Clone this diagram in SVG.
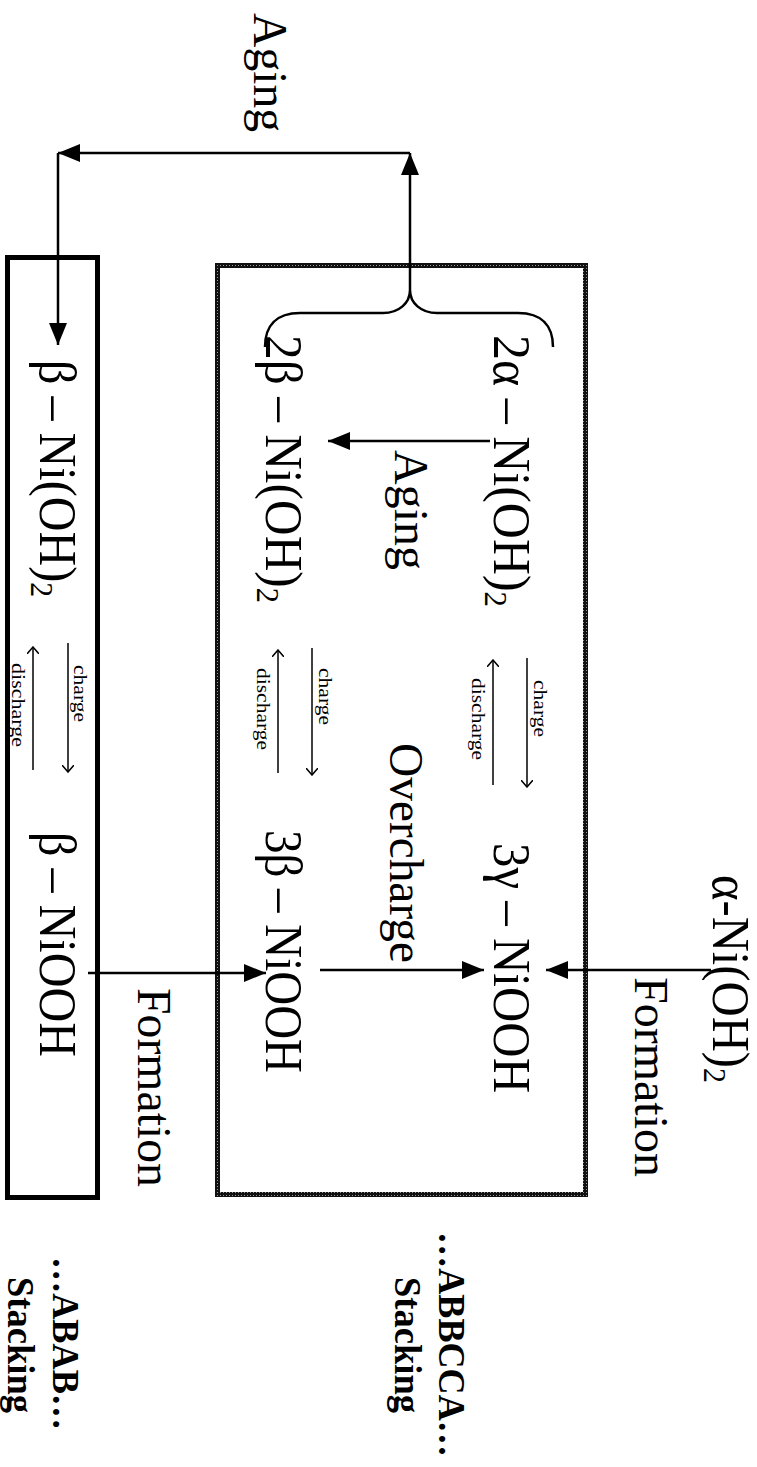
<svg xmlns="http://www.w3.org/2000/svg" width="757" height="1467" viewBox="0 0 757 1467">
  <defs>
    <style>
      .big { font-family: "Liberation Serif", "Times New Roman", serif; font-size: 52px; fill: #000; }
      .mid { font-family: "Liberation Serif", "Times New Roman", serif; font-size: 48px; fill: #000; }
      .sm { font-family: "Liberation Serif", "Times New Roman", serif; font-size: 18px; fill: #000; }
      .bold { font-family: "Liberation Serif", "Times New Roman", serif; font-size: 38px; font-weight: bold; fill: #000; }
      .sub { font-size: 32px; }
      .line { stroke: #000; stroke-width: 2.5; fill: none; }
      .thin { stroke: #000; stroke-width: 1.5; fill: none; }
    </style>
    <pattern id="hatch" width="3" height="3" patternUnits="userSpaceOnUse">
      <rect width="3" height="3" fill="#111"/>
      <rect x="1" y="1" width="1" height="1" fill="#9a9a9a"/>
    </pattern>
    <marker id="tri" markerUnits="userSpaceOnUse" markerWidth="22" markerHeight="18" refX="22" refY="9" orient="auto">
      <path d="M0,0 L22,9 L0,18 z" fill="#000"/>
    </marker>
    <marker id="open" markerUnits="userSpaceOnUse" markerWidth="8" markerHeight="12" refX="7" refY="6" orient="auto">
      <path d="M0,0 L7,6 L0,12" fill="none" stroke="#000" stroke-width="1.5"/>
    </marker>
  </defs>
  <rect width="757" height="1467" fill="#fff"/>

  <!-- phase boxes -->
  <g id="box-beta">
    <rect x="7.5" y="257.5" width="90" height="940" fill="none" stroke="#000" stroke-width="5"/>
  </g>
  <g id="box-alpha-gamma">
    <rect x="217.5" y="265.5" width="368" height="929" fill="none" stroke="url(#hatch)" stroke-width="5"/>
  </g>

  <!-- connectors -->
  <g id="connectors">
    <path class="line" d="M410,290 L410,153" marker-end="url(#tri)"/>
    <path class="line" d="M410,153 L58,153" marker-end="url(#tri)"/>
    <path class="line" d="M58,153 L58,345" marker-end="url(#tri)"/>
    <path class="line" d="M265,347 C265,326 276,313 300,313 L383,313 C399,313 410,303 410,290 C410,303 421,313 437,313 L518,313 C542,313 553,326 553,347"/>
    <path class="line" d="M490,441 L328,441" marker-end="url(#tri)"/>
    <path class="line" d="M711,970 L546,970" marker-end="url(#tri)"/>
    <path class="line" d="M320,970 L484,970" marker-end="url(#tri)"/>
    <path class="line" d="M88,973 L266,973" marker-end="url(#tri)"/>
    <!-- charge / discharge pairs -->
    <path class="thin" d="M527,658 L527,787" marker-end="url(#open)"/>
    <path class="thin" d="M493,785 L493,660" marker-end="url(#open)"/>
    <path class="thin" d="M312,648 L312,775" marker-end="url(#open)"/>
    <path class="thin" d="M278,773 L278,650" marker-end="url(#open)"/>
    <path class="thin" d="M68,643 L68,772" marker-end="url(#open)"/>
    <path class="thin" d="M33,770 L33,647" marker-end="url(#open)"/>
  </g>

  <!-- labels -->
  <g id="label-aging-top" transform="translate(254,13) rotate(90)">
    <text class="mid" textLength="119" lengthAdjust="spacingAndGlyphs">Aging</text>
  </g>
  <g id="node-2alpha" transform="translate(494,335) rotate(90)">
    <text class="big" textLength="272" lengthAdjust="spacingAndGlyphs">2α – Ni(OH)<tspan class="sub" dy="9">2</tspan></text>
  </g>
  <g id="node-2beta" transform="translate(266,335) rotate(90)">
    <text class="big" textLength="268" lengthAdjust="spacingAndGlyphs">2β – Ni(OH)<tspan class="sub" dy="9">2</tspan></text>
  </g>
  <g id="label-aging-mid" transform="translate(395,450) rotate(90)">
    <text class="mid" textLength="120" lengthAdjust="spacingAndGlyphs">Aging</text>
  </g>
  <g id="label-cd-1">
    <text class="sm" transform="translate(534,680) rotate(90)" textLength="57" lengthAdjust="spacingAndGlyphs">charge</text>
    <text class="sm" transform="translate(472,678) rotate(90)" textLength="82" lengthAdjust="spacingAndGlyphs">discharge</text>
  </g>
  <g id="label-cd-2">
    <text class="sm" transform="translate(319,668) rotate(90)" textLength="57" lengthAdjust="spacingAndGlyphs">charge</text>
    <text class="sm" transform="translate(257,668) rotate(90)" textLength="82" lengthAdjust="spacingAndGlyphs">discharge</text>
  </g>
  <g id="label-cd-3">
    <text class="sm" transform="translate(74,665) rotate(90)" textLength="57" lengthAdjust="spacingAndGlyphs">charge</text>
    <text class="sm" transform="translate(12,663) rotate(90)" textLength="84" lengthAdjust="spacingAndGlyphs">discharge</text>
  </g>
  <g id="label-overcharge" transform="translate(390,743) rotate(90)">
    <text class="mid" textLength="220" lengthAdjust="spacingAndGlyphs">Overcharge</text>
  </g>
  <g id="node-3gamma" transform="translate(494,843) rotate(90)">
    <text class="big" textLength="250" lengthAdjust="spacingAndGlyphs">3γ – NiOOH</text>
  </g>
  <g id="node-3beta" transform="translate(266,830) rotate(90)">
    <text class="big" textLength="243" lengthAdjust="spacingAndGlyphs">3β – NiOOH</text>
  </g>
  <g id="node-alpha" transform="translate(713,875) rotate(90)">
    <text class="big" textLength="208" lengthAdjust="spacingAndGlyphs">α-Ni(OH)<tspan class="sub" dy="9">2</tspan></text>
  </g>
  <g id="label-formation-right" transform="translate(635,977) rotate(90)">
    <text class="mid" textLength="200" lengthAdjust="spacingAndGlyphs">Formation</text>
  </g>
  <g id="node-beta-oh" transform="translate(40,360) rotate(90)">
    <text class="big" textLength="237" lengthAdjust="spacingAndGlyphs">β – Ni(OH)<tspan class="sub" dy="9">2</tspan></text>
  </g>
  <g id="node-beta-ooh" transform="translate(40,832) rotate(90)">
    <text class="big" textLength="225" lengthAdjust="spacingAndGlyphs">β – NiOOH</text>
  </g>
  <g id="label-formation-left" transform="translate(138,988) rotate(90)">
    <text class="mid" textLength="199" lengthAdjust="spacingAndGlyphs">Formation</text>
  </g>
  <g id="label-abbcca">
    <text class="bold" transform="translate(439,1232) rotate(90)" textLength="225" lengthAdjust="spacingAndGlyphs">…ABBCCA…</text>
    <text class="bold" transform="translate(395,1277) rotate(90)" textLength="136" lengthAdjust="spacingAndGlyphs">Stacking</text>
  </g>
  <g id="label-abab">
    <text class="bold" transform="translate(53,1257) rotate(90)" textLength="173" lengthAdjust="spacingAndGlyphs">…ABAB…</text>
    <text class="bold" transform="translate(8,1277) rotate(90)" textLength="136" lengthAdjust="spacingAndGlyphs">Stacking</text>
  </g>
</svg>
